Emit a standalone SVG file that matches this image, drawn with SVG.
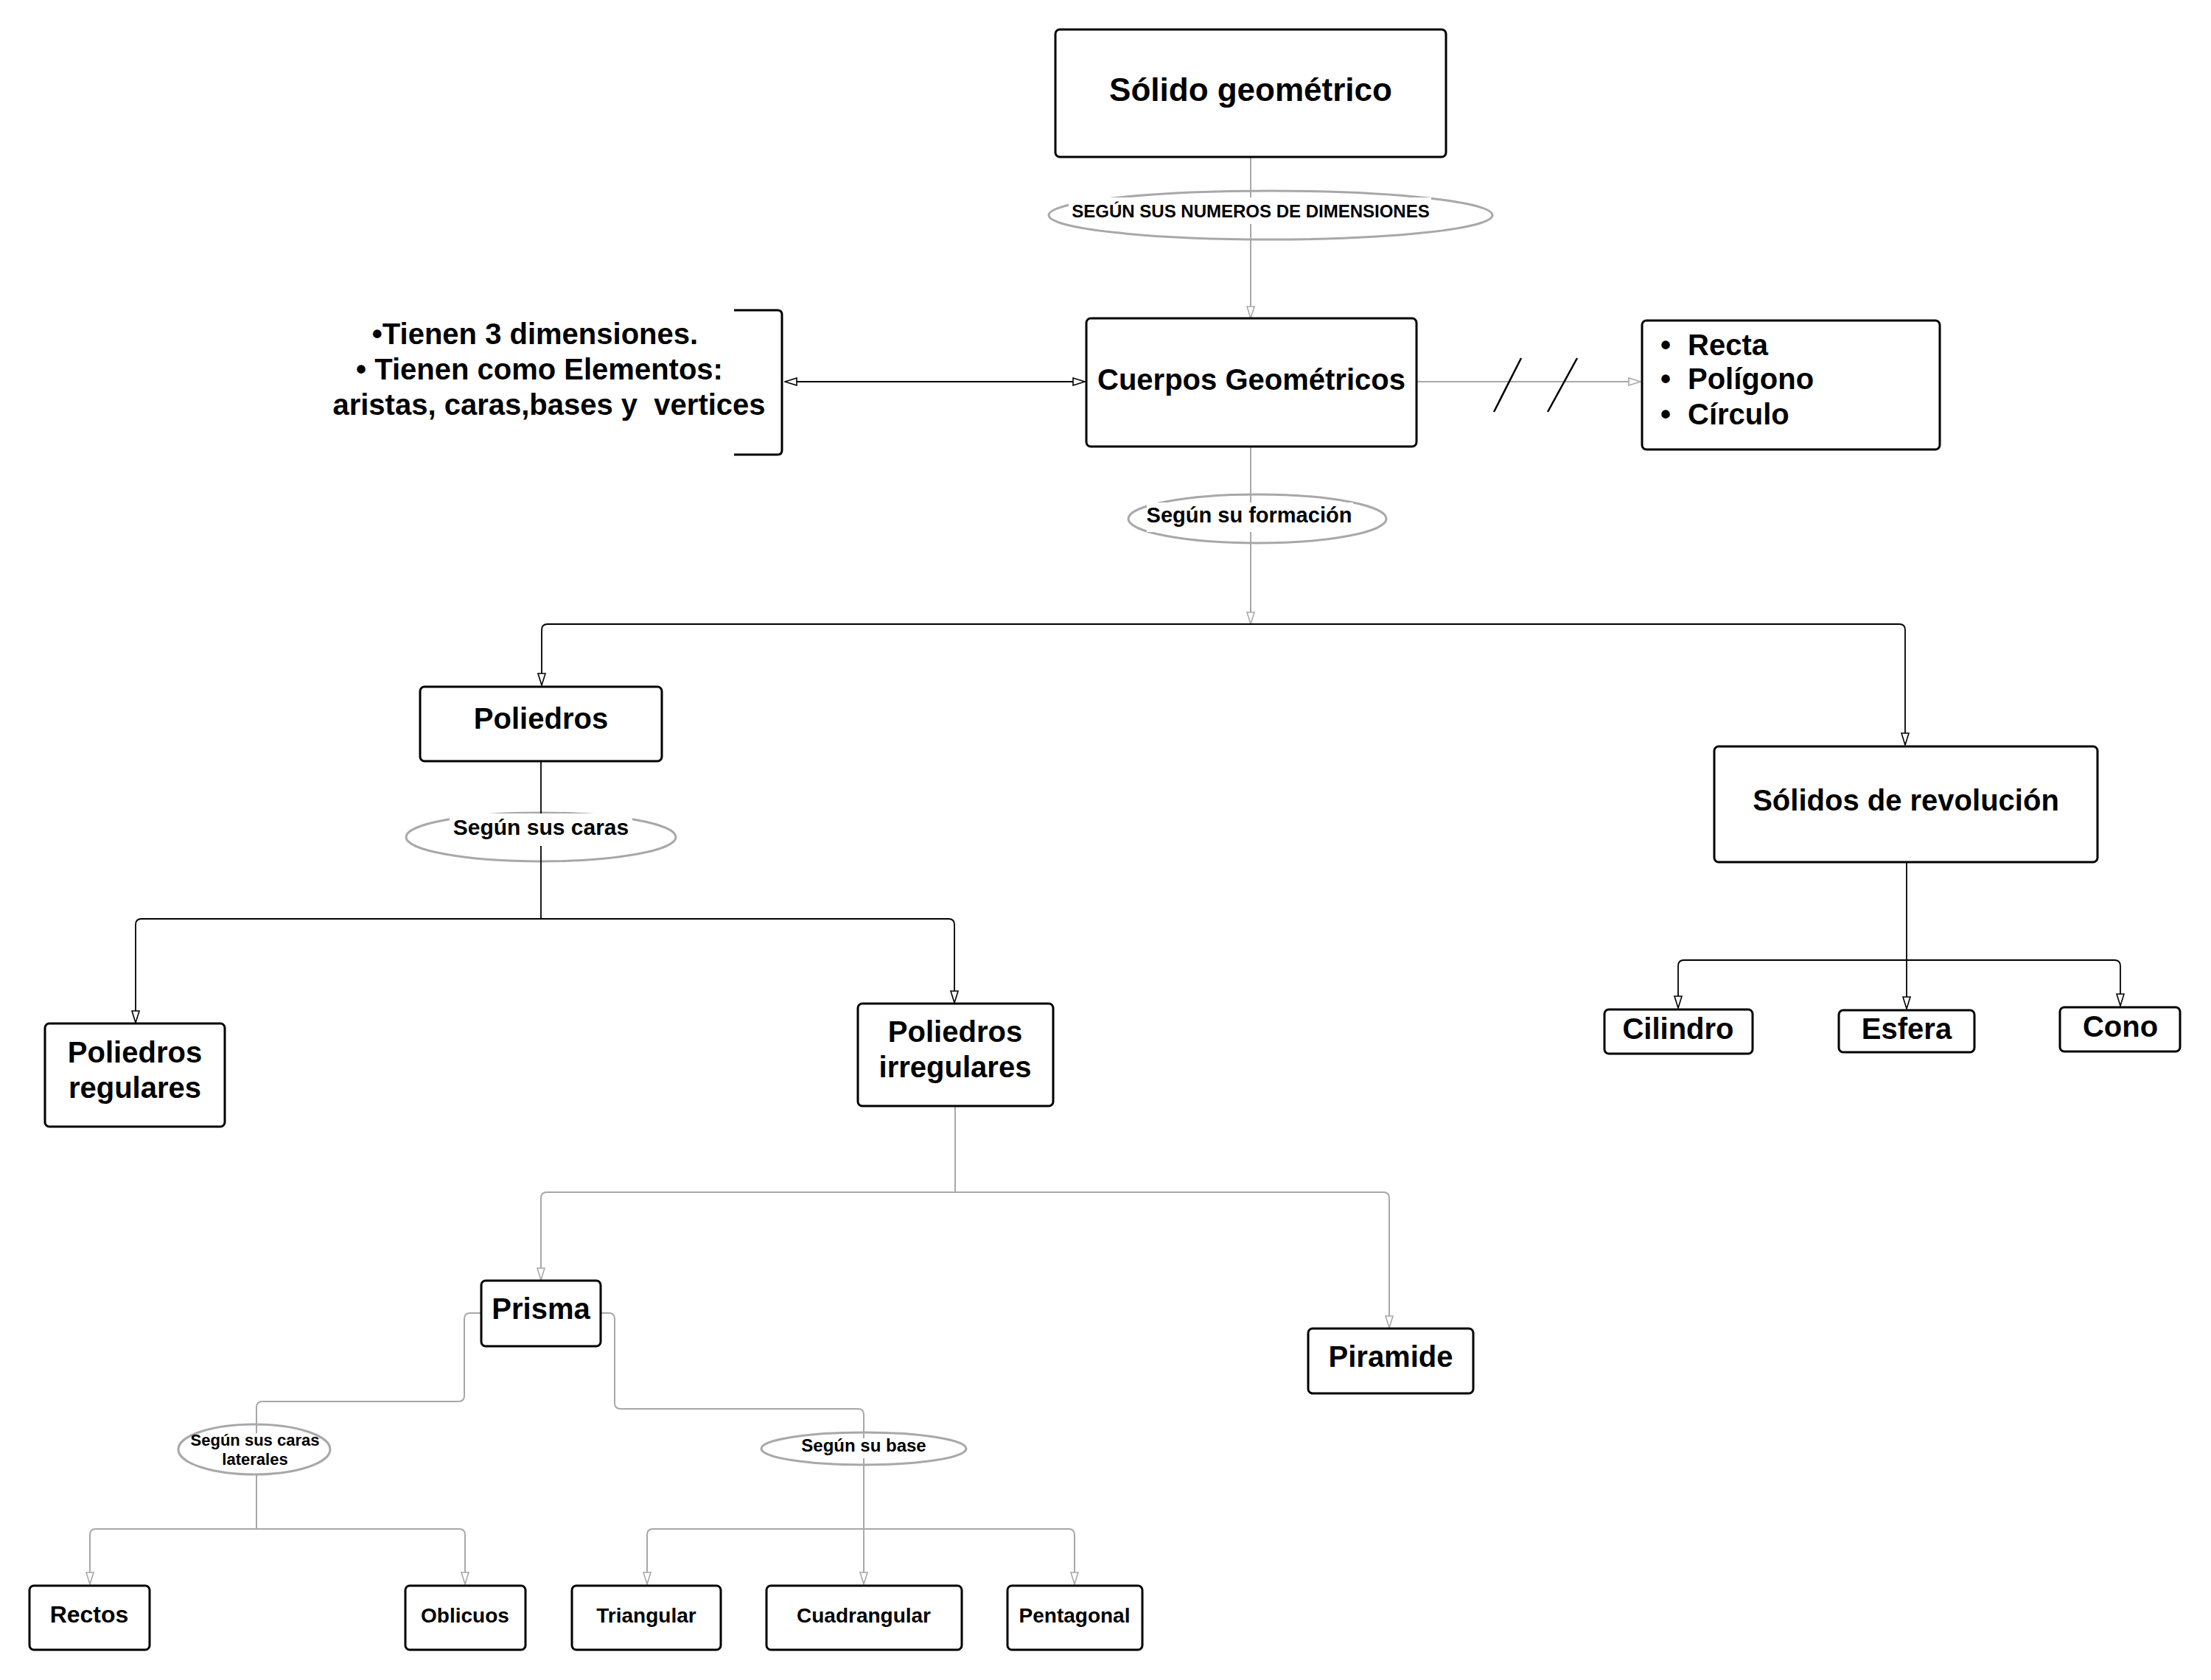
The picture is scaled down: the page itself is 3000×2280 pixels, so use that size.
<svg xmlns="http://www.w3.org/2000/svg" width="3000" height="2280" viewBox="0 0 3000 2280">
<style>
.box{fill:#fff;stroke:#000;stroke-width:3}
.t{font-family:"Liberation Sans",Arial,sans-serif;font-weight:bold;fill:#000;text-anchor:middle}
.tl{font-family:"Liberation Sans",Arial,sans-serif;font-weight:bold;fill:#000}
.cb{fill:none;stroke:#000;stroke-width:1.8}
.cg{fill:none;stroke:#a8a8a8;stroke-width:2}
.ell{fill:#fff;stroke:#a8a8a8;stroke-width:3}
.bg{fill:#fff}
</style>
<defs>
<marker id="ab" viewBox="0 0 18 12" refX="17" refY="6" markerWidth="18" markerHeight="12" markerUnits="userSpaceOnUse" orient="auto-start-reverse">
<path d="M1,1 L17,6 L1,11 z" fill="#fff" stroke="#000" stroke-width="1.6"/>
</marker>
<marker id="ag" viewBox="0 0 18 12" refX="17" refY="6" markerWidth="18" markerHeight="12" markerUnits="userSpaceOnUse" orient="auto-start-reverse">
<path d="M1,1 L17,6 L1,11 z" fill="#fff" stroke="#a8a8a8" stroke-width="1.6"/>
</marker>
</defs>
<rect width="3000" height="2280" fill="#fff"/>

<g id="connectors">
<!-- Solido -> Cuerpos -->
<ellipse class="ell" cx="1724" cy="292" rx="301" ry="33"/>
<path class="cg" d="M1697,213 V432" marker-end="url(#ag)"/>
<rect class="bg" x="1450" y="268" width="492" height="36"/>
<text class="t" x="1697" y="295" font-size="24">SEGÚN SUS NUMEROS DE DIMENSIONES</text>

<!-- Cuerpos -> tree -->
<ellipse class="ell" cx="1706" cy="704" rx="175" ry="33"/>
<path class="cg" d="M1697,606 V847" marker-end="url(#ag)"/>
<rect class="bg" x="1556" y="682" width="280" height="40"/>
<text class="t" x="1695" y="709" font-size="29">Según su formación</text>
<path class="cb" d="M1697,847 H743 Q735,847 735,855 V930" marker-end="url(#ab)"/>
<path class="cb" d="M1697,847 H2577 Q2585,847 2585,855 V1011" marker-end="url(#ab)"/>

<!-- bracket double arrow -->
<path class="cb" d="M1065,518 H1472" marker-start="url(#ab)" marker-end="url(#ab)"/>
<!-- Cuerpos -> Recta box -->
<path class="cg" d="M1922,518 H2226" marker-end="url(#ag)"/>
<path d="M2064,486 L2027,559 M2140,486 L2100,559" stroke="#000" stroke-width="2.5" fill="none"/>

<!-- Poliedros -> regulares / irregulares -->
<ellipse class="ell" cx="734" cy="1136" rx="183" ry="33"/>
<path class="cb" d="M734,1033 V1247"/>
<rect class="bg" x="610" y="1104" width="248" height="44"/>
<text class="t" x="734" y="1133" font-size="30">Según sus caras</text>
<path class="cb" d="M734,1247 H192 Q184,1247 184,1255 V1388" marker-end="url(#ab)"/>
<path class="cb" d="M734,1247 H1287 Q1295,1247 1295,1255 V1361" marker-end="url(#ab)"/>

<!-- irregulares -> Prisma / Piramide -->
<path class="cg" d="M1296,1501 V1618 H742 Q734,1618 734,1626 V1737" marker-end="url(#ag)"/>
<path class="cg" d="M1296,1618 H1877 Q1885,1618 1885,1626 V1802" marker-end="url(#ag)"/>

<!-- Prisma -> Segun sus caras laterales -->
<ellipse class="ell" cx="345" cy="1967" rx="103" ry="34"/>
<path class="cg" d="M653,1782 H638 Q630,1782 630,1790 V1894 Q630,1902 622,1902 H356 Q348,1902 348,1910 V1945"/>
<text class="t" x="346" y="1962" font-size="22">Según sus caras</text>
<text class="t" x="346" y="1988" font-size="22">laterales</text>
<path class="cg" d="M348,2001 V2075 H130 Q122,2075 122,2083 V2150" marker-end="url(#ag)"/>
<path class="cg" d="M348,2075 H623 Q631,2075 631,2083 V2150" marker-end="url(#ag)"/>

<!-- Prisma -> Segun su base -->
<ellipse class="ell" cx="1172" cy="1966" rx="139" ry="22"/>
<path class="cg" d="M815,1782 H826 Q834,1782 834,1790 V1904 Q834,1912 842,1912 H1164 Q1172,1912 1172,1920 V2150" marker-end="url(#ag)"/>
<rect class="bg" x="1085" y="1952" width="175" height="27"/>
<text class="t" x="1172" y="1970" font-size="24">Según su base</text>
<path class="cg" d="M1172,2075 H886 Q878,2075 878,2083 V2150" marker-end="url(#ag)"/>
<path class="cg" d="M1172,2075 H1450 Q1458,2075 1458,2083 V2150" marker-end="url(#ag)"/>

<!-- Solidos de revolucion -> children -->
<path class="cb" d="M2587,1170 V1369" marker-end="url(#ab)"/>
<path class="cb" d="M2587,1303 H2285 Q2277,1303 2277,1311 V1368" marker-end="url(#ab)"/>
<path class="cb" d="M2587,1303 H2869 Q2877,1303 2877,1311 V1365" marker-end="url(#ab)"/>
</g>

<g id="n-solido">
<rect class="box" x="1432" y="40" width="530" height="173" rx="6"/>
<text class="t" x="1697" y="137" font-size="44">Sólido geométrico</text>
</g>

<g id="n-cuerpos">
<rect class="box" x="1474" y="432" width="448" height="174" rx="6"/>
<text class="t" x="1698" y="529" font-size="40">Cuerpos Geométricos</text>
</g>

<g id="n-caracteristicas">
<path d="M996,421 H1055 Q1061,421 1061,427 V611 Q1061,617 1055,617 H996" fill="none" stroke="#000" stroke-width="3"/>
<text class="t" x="726" y="467" font-size="40">•Tienen 3 dimensiones.</text>
<text class="t" x="732" y="515" font-size="40">• Tienen como Elementos:</text>
<text class="t" x="745" y="563" font-size="40" style="white-space:pre" xml:space="preserve">aristas, caras,bases y  vertices</text>
</g>

<g id="n-recta">
<rect class="box" x="2228" y="435" width="404" height="175" rx="6"/>
<text class="tl" x="2253" y="482" font-size="40">•</text>
<text class="tl" x="2290" y="482" font-size="40">Recta</text>
<text class="tl" x="2253" y="528" font-size="40">•</text>
<text class="tl" x="2290" y="528" font-size="40">Polígono</text>
<text class="tl" x="2253" y="576" font-size="40">•</text>
<text class="tl" x="2290" y="576" font-size="40">Círculo</text>
</g>

<g id="n-poliedros">
<rect class="box" x="570" y="932" width="328" height="101" rx="6"/>
<text class="t" x="734" y="989" font-size="40">Poliedros</text>
</g>

<g id="n-revolucion">
<rect class="box" x="2326" y="1013" width="520" height="157" rx="6"/>
<text class="t" x="2586" y="1100" font-size="40">Sólidos de revolución</text>
</g>

<g id="n-regulares">
<rect class="box" x="61" y="1389" width="244" height="140" rx="6"/>
<text class="t" x="183" y="1442" font-size="40">Poliedros</text>
<text class="t" x="183" y="1490" font-size="40">regulares</text>
</g>

<g id="n-irregulares">
<rect class="box" x="1164" y="1362" width="265" height="139" rx="6"/>
<text class="t" x="1296" y="1414" font-size="40">Poliedros</text>
<text class="t" x="1296" y="1462" font-size="40">irregulares</text>
</g>

<g id="n-prisma">
<rect class="box" x="653" y="1738" width="162" height="89" rx="6"/>
<text class="t" x="734" y="1790" font-size="40">Prisma</text>
</g>

<g id="n-piramide">
<rect class="box" x="1775" y="1803" width="224" height="88" rx="6"/>
<text class="t" x="1887" y="1855" font-size="40">Piramide</text>
</g>

<g id="n-cilindro">
<rect class="box" x="2177" y="1370" width="201" height="60" rx="6"/>
<text class="t" x="2277" y="1410" font-size="40">Cilindro</text>
</g>

<g id="n-esfera">
<rect class="box" x="2495" y="1371" width="184" height="57" rx="6"/>
<text class="t" x="2587" y="1410" font-size="40">Esfera</text>
</g>

<g id="n-cono">
<rect class="box" x="2795" y="1367" width="163" height="60" rx="6"/>
<text class="t" x="2877" y="1407" font-size="40">Cono</text>
</g>

<g id="n-rectos">
<rect class="box" x="40" y="2152" width="163" height="87" rx="6"/>
<text class="t" x="121" y="2202" font-size="32">Rectos</text>
</g>

<g id="n-oblicuos">
<rect class="box" x="550" y="2152" width="163" height="87" rx="6"/>
<text class="t" x="631" y="2202" font-size="28">Oblicuos</text>
</g>

<g id="n-triangular">
<rect class="box" x="776" y="2152" width="202" height="87" rx="6"/>
<text class="t" x="877" y="2202" font-size="28">Triangular</text>
</g>

<g id="n-cuadrangular">
<rect class="box" x="1040" y="2152" width="265" height="87" rx="6"/>
<text class="t" x="1172" y="2202" font-size="28">Cuadrangular</text>
</g>

<g id="n-pentagonal">
<rect class="box" x="1367" y="2152" width="183" height="87" rx="6"/>
<text class="t" x="1458" y="2202" font-size="28">Pentagonal</text>
</g>
</svg>
